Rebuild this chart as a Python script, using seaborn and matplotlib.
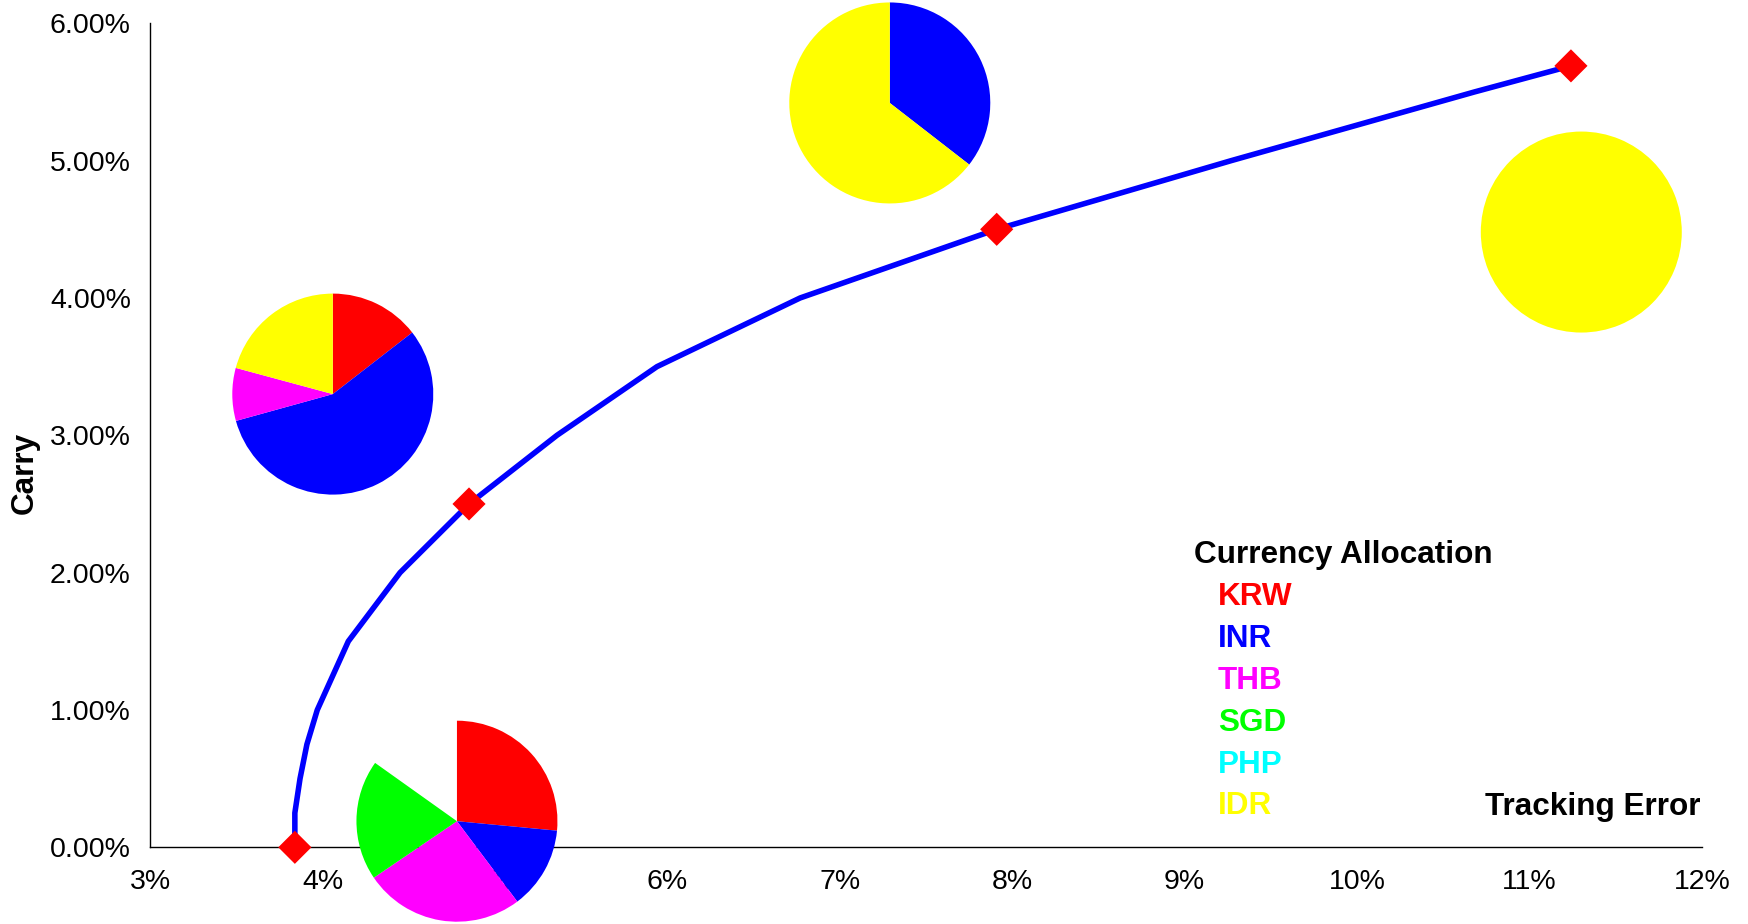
import numpy as np
import pandas as pd
import matplotlib
matplotlib.use("Agg")
import matplotlib.pyplot as plt
import seaborn as sns
from matplotlib import font_manager
from matplotlib.ticker import FuncFormatter

# ---------------- data (percent units) ----------------
tracking_error = [3.84, 3.84, 3.87, 3.91, 3.97, 4.15, 4.45, 4.85, 5.36, 5.94, 6.77, 7.91, 9.27, 10.68, 11.24]
carry = [0.00, 0.25, 0.50, 0.75, 1.00, 1.50, 2.00, 2.50, 3.00, 3.50, 4.00, 4.50, 5.00, 5.50, 5.69]

highlight_te = [3.84, 4.85, 7.91, 11.24]
highlight_carry = [0.00, 2.50, 4.50, 5.69]

currencies = ["KRW", "INR", "THB", "SGD", "PHP", "IDR"]
currency_colors = ["#FF0000", "#0000FF", "#FF00FF", "#00FF00", "#00FFFF", "#FFFF00"]

# allocation (%) for each highlighted portfolio, in currency order
alloc_min = [26.5, 13.25, 25.75, 19.35, 0, 0]
alloc_25 = [14.5, 56.2, 8.5, 0, 0, 20.8]
alloc_45 = [0, 35.5, 0, 0, 0, 64.5]
alloc_max = [0, 0, 0, 0, 0, 100]
allocations = [alloc_min, alloc_25, alloc_45, alloc_max]

# where each allocation pie sits (data coords: tracking error %, carry %)
pie_te = [4.78, 4.06, 7.29, 11.30]
pie_carry = [0.19, 3.30, 5.42, 4.48]

x_ticks = [3, 4, 5, 6, 7, 8, 9, 10, 11, 12]
y_ticks = [0, 1, 2, 3, 4, 5, 6]

# ---------------- style ----------------
sns.set_theme(style="white")
avail = {f.name for f in font_manager.fontManager.ttflist}
base = "Liberation Sans" if "Liberation Sans" in avail else "DejaVu Sans"
narrow = "Liberation Sans Narrow" if "Liberation Sans Narrow" in avail else None
plt.rcParams["font.family"] = [base, "DejaVu Sans"]

W, H = 1749, 924
fig = plt.figure(figsize=(W / 100, H / 100), dpi=100)
fig.patch.set_facecolor("white")
ax = fig.add_axes([150 / W, (H - 847.3) / H, 1552 / W, 824 / H])
ax.set_facecolor("white")

df = pd.DataFrame({"te": tracking_error, "carry": carry})
sns.lineplot(data=df, x="te", y="carry", sort=False, estimator=None,
             color="#0000FF", lw=4.0, ax=ax, zorder=3, clip_on=False)
sns.scatterplot(x=highlight_te, y=highlight_carry, marker="D", s=285,
                color="#FF0000", edgecolor="none", linewidth=0, ax=ax,
                zorder=5, clip_on=False)

ax.set_xlim(3, 12)
ax.set_ylim(0, 6)
ax.set_xticks(x_ticks)
ax.set_yticks(y_ticks)
ax.xaxis.set_major_formatter(FuncFormatter(lambda v, p: f"{v:.0f}%"))
ax.yaxis.set_major_formatter(FuncFormatter(lambda v, p: f"{v:.2f}%"))
for s in ["top", "right"]:
    ax.spines[s].set_visible(False)
for s in ["left", "bottom"]:
    ax.spines[s].set_color("black")
    ax.spines[s].set_linewidth(1.0)
ax.tick_params(axis="both", direction="out", length=5.8, width=1.0, color="black")
ax.tick_params(axis="x", pad=10, labelsize=20.5, labelcolor="black")
if narrow:
    ax.tick_params(axis="y", pad=8, labelsize=23.5, labelcolor="black")
    for lab in ax.get_yticklabels():
        lab.set_fontfamily([narrow, "DejaVu Sans"])
else:
    ax.tick_params(axis="y", pad=8, labelsize=20.5, labelcolor="black")
ax.grid(False)

ax.set_xlabel("")
ax.set_ylabel("Carry", fontsize=22.7, fontweight="bold", color="black")
ax.yaxis.set_label_coords(-0.071, 0.454)

ax.text(0.999, 0.039, "Tracking Error", transform=ax.transAxes, ha="right",
        va="baseline", fontsize=22.7, fontweight="bold", color="black")

# legend-like list of currencies
leg_x, leg_y = 1194 / W, (H - 563.3) / H
fig.text(leg_x, leg_y, "Currency Allocation", fontsize=22.7, fontweight="bold",
         color="black", va="baseline", ha="left")
step = 41.9 / H
for i, (cur, col) in enumerate(zip(currencies, currency_colors)):
    fig.text(1218 / W, (H - 605.0) / H - i * step, cur, fontsize=22.7,
             fontweight="bold", color=col, va="baseline", ha="left")

# ---------------- pies ----------------
r_px = 100.5
inv = fig.transFigure.inverted()
for alloc, px, py in zip(allocations, pie_te, pie_carry):
    cx, cy = ax.transData.transform((px, py))
    (fx0, fy0) = inv.transform((cx - r_px, cy - r_px))
    (fx1, fy1) = inv.transform((cx + r_px, cy + r_px))
    pax = fig.add_axes([fx0, fy0, fx1 - fx0, fy1 - fy0])
    fr = np.array(alloc, dtype=float) / 100.0
    norm = fr.sum() >= 0.999
    pax.pie(fr, colors=currency_colors, startangle=90, counterclock=False,
            normalize=norm, radius=1.0, wedgeprops=dict(linewidth=0))
    pax.set_xlim(-1, 1)
    pax.set_ylim(-1, 1)
    pax.set_aspect("equal")
    pax.axis("off")

fig.savefig("out.png", dpi=100, facecolor="white")
